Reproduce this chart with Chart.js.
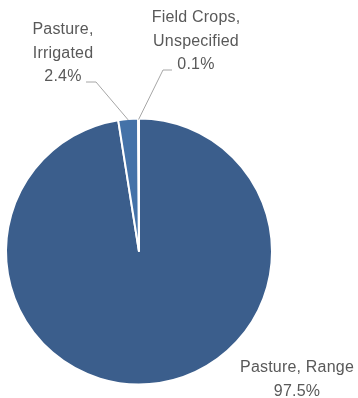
<!DOCTYPE html>
<html lang="en">
<head>
    <meta charset="UTF-8">
    <title>Land Use Pie</title>
    <style>
        body { margin: 0; background: #ffffff; }
        #wrap { width: 358px; height: 398px; }
    </style>
</head>
<body>
    <div id="wrap"><canvas id="pie" width="358" height="398"></canvas></div>

    <script src="https://cdn.jsdelivr.net/npm/chart.js"></script>
    <script>
        // data
        const categories = ['Pasture, Range', 'Pasture, Irrigated', 'Field Crops, Unspecified'];
        const labelLines = [['Pasture, Range'], ['Pasture,', 'Irrigated'], ['Field Crops,', 'Unspecified']];
        const shares = [97.5, 2.4, 0.1];
        const sliceColors = ['#3b5e8c', '#4472a8', '#3f6899'];

        // where each label block sits (centre x, first line y) and the elbow of its leader
        const labelSpots = [
            { x: 297, y: 368, leader: null },
            { x: 63, y: 30, leader: { fromX: 86, x: 96, y: 82 } },
            { x: 196, y: 18, leader: { fromX: 172, x: 163, y: 70 } }
        ];

        const labelPlugin = {
            id: 'sliceLabels',
            afterDraw(chart) {
                const ctx = chart.ctx;
                const meta = chart.getDatasetMeta(0);
                ctx.save();
                ctx.font = '16px "Liberation Sans", Arial, sans-serif';
                ctx.letterSpacing = '0.2px';
                ctx.fillStyle = '#595959';
                ctx.textAlign = 'center';
                ctx.textBaseline = 'middle';
                meta.data.forEach((arc, i) => {
                    const spot = labelSpots[i];
                    const lines = labelLines[i].concat([shares[i].toFixed(1) + '%']);
                    lines.forEach((t, j) => ctx.fillText(t, spot.x, spot.y + j * 23.5));
                    if (spot.leader) {
                        const p = arc.getProps(['x', 'y', 'startAngle', 'endAngle', 'outerRadius'], true);
                        const mid = (p.startAngle + p.endAngle) / 2;
                        const ex = p.x + Math.cos(mid) * (p.outerRadius - 1);
                        const ey = p.y + Math.sin(mid) * (p.outerRadius - 1);
                        ctx.strokeStyle = '#a6a6a6';
                        ctx.lineWidth = 1;
                        ctx.beginPath();
                        ctx.moveTo(spot.leader.fromX, spot.leader.y);
                        ctx.lineTo(spot.leader.x, spot.leader.y);
                        ctx.lineTo(ex, ey);
                        ctx.stroke();
                    }
                });
                ctx.restore();
            }
        };

        new Chart(document.getElementById('pie').getContext('2d'), {
            type: 'pie',
            data: {
                labels: categories,
                datasets: [{
                    data: shares,
                    backgroundColor: sliceColors,
                    borderColor: '#ffffff',
                    borderWidth: 2
                }]
            },
            options: {
                responsive: false,
                animation: false,
                layout: { padding: { left: 5, right: 85, top: 117, bottom: 12 } },
                plugins: {
                    legend: { display: false },
                    tooltip: { enabled: false }
                }
            },
            plugins: [labelPlugin]
        });
    </script>
</body>
</html>
